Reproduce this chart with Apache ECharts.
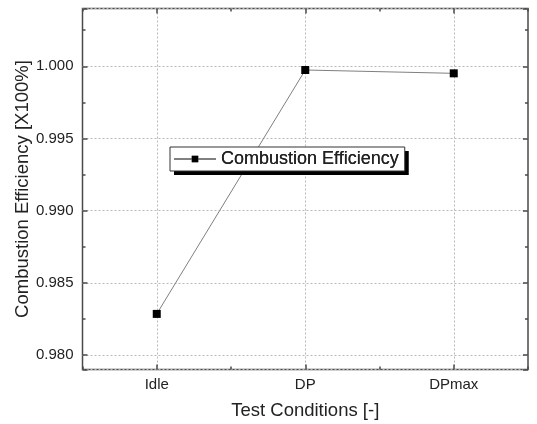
<!DOCTYPE html>
<html>
<head>
<meta charset="utf-8">
<script src="https://cdn.jsdelivr.net/npm/echarts@6/dist/echarts.min.js"></script>
<style>
  html, body { margin: 0; padding: 0; background: #fff; }
  #chart { width: 537px; height: 424px; }
</style>
</head>
<body>
<div id="chart"></div>
<script>
// Test conditions and measured combustion efficiency
const conditions = ['Idle', 'DP', 'DPmax'];
const efficiency = [0.98285, 0.99974, 0.99951];
const seriesName = 'Combustion Efficiency';
const yRange = [0.979, 1.004];

const frameColor = '#4a4a4a';
const textColor = '#222222';
const fontFamily = 'Arial, Liberation Sans, sans-serif';
const gridLine = { show: true, lineStyle: { color: '#b8b8b8', type: [2, 2], width: 1 } };

const chart = echarts.init(document.getElementById('chart'), null, { renderer: 'canvas' });

// x axes: labelled categories (major ticks at centres) plus boundary ticks (minor)
const xMajor = (pos, labels) => ({
  type: 'category', data: conditions, position: pos, boundaryGap: true,
  axisLine: { show: false },
  axisTick: { show: true, inside: true, alignWithLabel: true, length: 5, lineStyle: { color: frameColor, width: 1.5 } },
  axisLabel: { show: labels, color: textColor, fontFamily: fontFamily, fontSize: 15, margin: 8 },
  splitLine: labels ? Object.assign({ alignWithLabel: true }, gridLine) : { show: false },
  name: labels ? 'Test Conditions [-]' : '',
  nameLocation: 'middle', nameGap: 32, nameMoveOverlap: false,
  nameTextStyle: { color: textColor, fontFamily: fontFamily, fontSize: 18.5 }
});
const xMinor = (pos) => ({
  type: 'category', data: conditions, position: pos, boundaryGap: true,
  axisLine: { show: false },
  axisTick: { show: true, inside: true, alignWithLabel: false, length: 3, lineStyle: { color: frameColor, width: 1.5 } },
  axisLabel: { show: false }, splitLine: { show: false }
});
const yAxisDef = (pos, labels) => ({
  type: 'value', position: pos, min: yRange[0], max: yRange[1], splitNumber: 5,
  axisLine: { show: false },
  axisTick: { show: true, inside: true, length: 5, lineStyle: { color: frameColor, width: 1.5 } },
  minorTick: { show: true, splitNumber: 2, length: 3, lineStyle: { color: frameColor, width: 1.5 } },
  axisLabel: {
    show: labels, showMinLabel: false, showMaxLabel: false, color: textColor,
    fontFamily: fontFamily, fontSize: 15, margin: 9,
    formatter: v => v.toFixed(3)
  },
  splitLine: labels ? gridLine : { show: false },
  name: labels ? 'Combustion Efficiency [X100%]' : '',
  nameLocation: 'middle', nameGap: 50, nameMoveOverlap: false,
  nameTextStyle: { color: textColor, fontFamily: fontFamily, fontSize: 18.5 }
});

// legend: a white box with a hard black drop shadow, and a bordered box on top
const legendBase = {
  left: 170, top: 147,
  data: [seriesName],
  padding: [3, 6, 3, 3],
  itemWidth: 42, itemHeight: 8,
  selectedMode: false,
  textStyle: { color: textColor, fontFamily: fontFamily, fontSize: 18 }
};

chart.setOption({
  animation: false,
  backgroundColor: '#ffffff',
  grid: {
    left: 82.5, top: 8.5, right: 9, bottom: 54.5,
    outerBoundsMode: 'none',
    show: true, borderColor: frameColor, borderWidth: 1.5, backgroundColor: 'transparent'
  },
  legend: [
    Object.assign({}, legendBase, {
      backgroundColor: '#ffffff', borderWidth: 0,
      shadowColor: '#000000', shadowBlur: 0, shadowOffsetX: 4, shadowOffsetY: 4
    }),
    Object.assign({}, legendBase, {
      backgroundColor: 'transparent', borderColor: '#333333', borderWidth: 1
    })
  ],
  xAxis: [xMajor('bottom', true), xMajor('top', false), xMinor('bottom'), xMinor('top')],
  yAxis: [yAxisDef('left', true), yAxisDef('right', false)],
  series: [{
    name: seriesName,
    type: 'line',
    data: efficiency,
    xAxisIndex: 0, yAxisIndex: 0,
    symbol: 'rect', symbolSize: 8,
    itemStyle: { color: '#000000' },
    lineStyle: { color: '#808080', width: 1 }
  }]
});
</script>
</body>
</html>
